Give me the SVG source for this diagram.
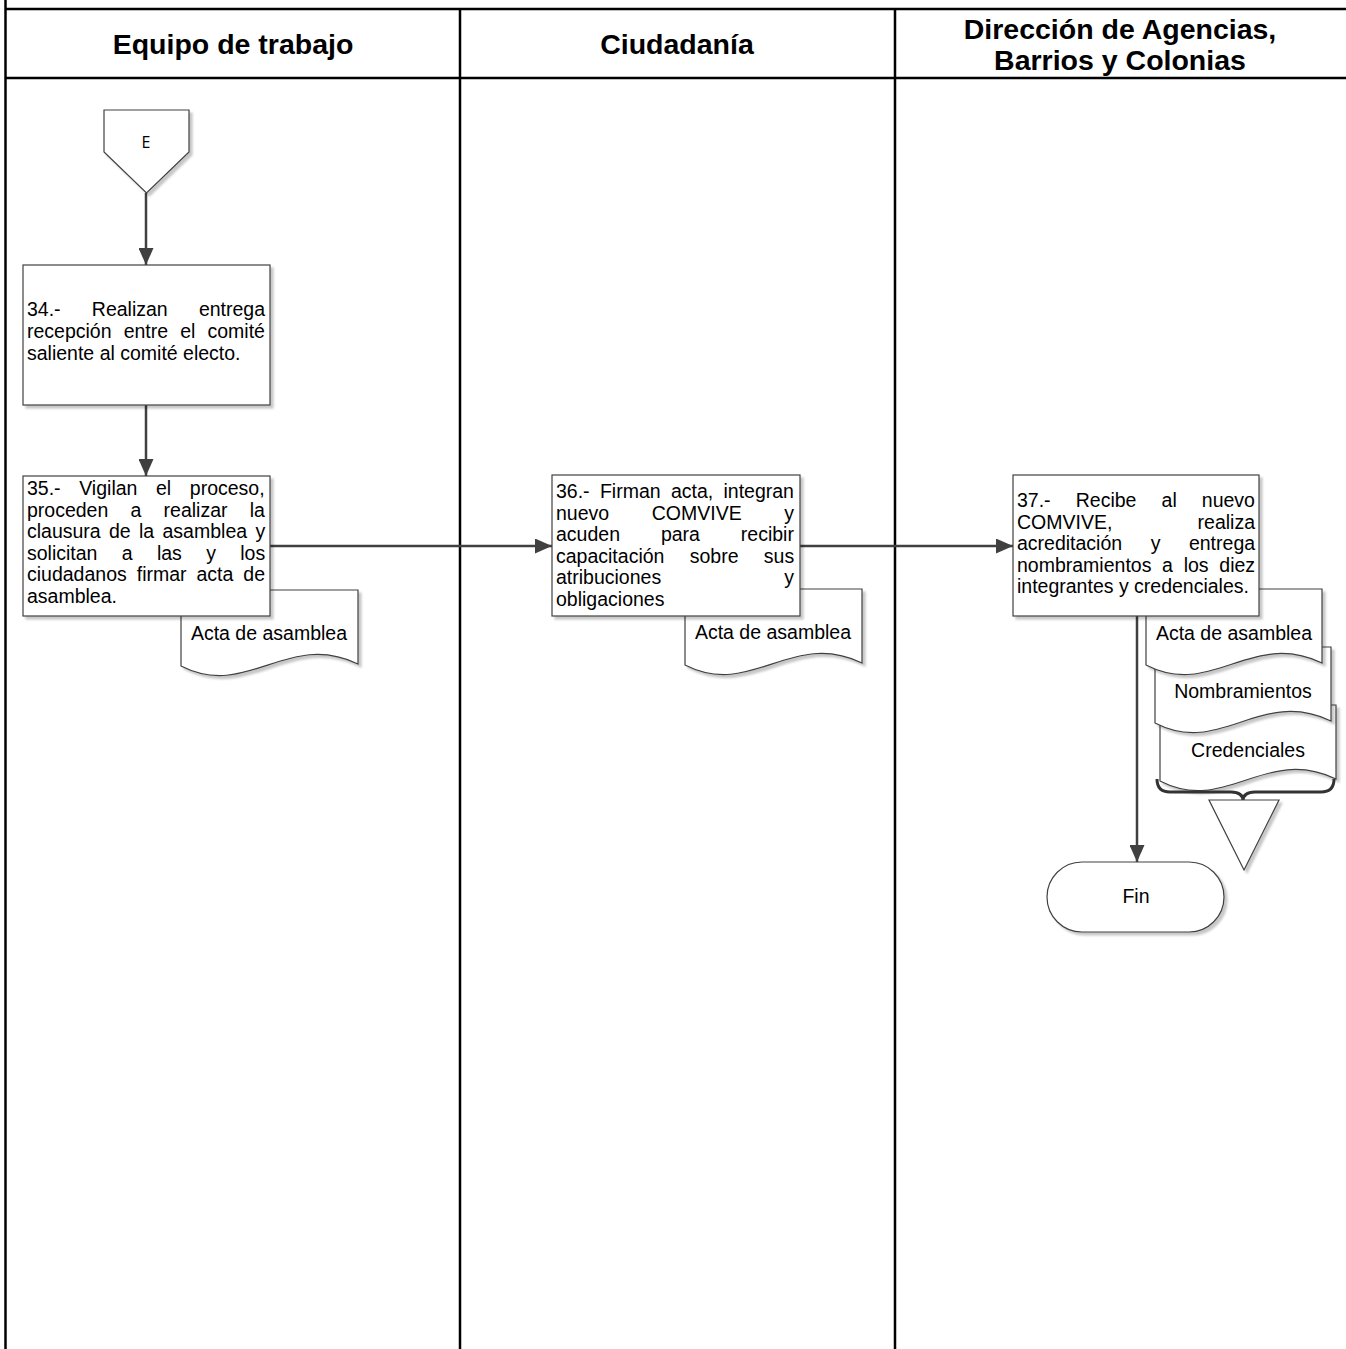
<svg xmlns="http://www.w3.org/2000/svg" width="1346" height="1349" viewBox="0 0 1346 1349">
  <style>
    .lane { stroke: #000; stroke-width: 2.5; fill: none; }
    .hdr { font-family: "Liberation Sans", Arial, sans-serif; font-weight: bold; font-size: 28.5px; fill: #000; text-anchor: middle; }
    .box { fill: #fff; stroke: #404040; stroke-width: 1.2; }
    .txt { font-family: "Liberation Sans", Arial, sans-serif; font-size: 19.5px; fill: #000; }
    .ctr { text-anchor: middle; }
    .con { stroke: #404040; stroke-width: 2.5; fill: none; }
  </style>
  <defs>
    <filter id="shadow" x="-10%" y="-10%" width="125%" height="130%">
      <feDropShadow dx="3" dy="3" stdDeviation="1.2" flood-color="#000" flood-opacity="0.22"/>
    </filter>
    <marker id="arrow" viewBox="0 0 17 15" refX="17" refY="7.5" markerWidth="17" markerHeight="15" markerUnits="userSpaceOnUse" orient="auto">
      <path d="M0,0 L17,7.5 L0,15 Z" fill="#404040"/>
    </marker>
  </defs>

  <rect width="1346" height="1349" fill="#fff"/>

  <!-- swimlane frame -->
  <g id="lanes">
    <line class="lane" x1="5.5" y1="0" x2="5.5" y2="1349"/>
    <line class="lane" x1="5" y1="9" x2="1346" y2="9"/>
    <line class="lane" x1="5" y1="78" x2="1346" y2="78"/>
    <line class="lane" x1="460" y1="9" x2="460" y2="1349"/>
    <line class="lane" x1="895" y1="9" x2="895" y2="1349"/>
    <text class="hdr" x="233" y="54">Equipo de trabajo</text>
    <text class="hdr" x="677" y="54">Ciudadanía</text>
    <text class="hdr" x="1120" y="39">Dirección de Agencias,</text>
    <text class="hdr" x="1120" y="70">Barrios y Colonias</text>
  </g>

  <!-- connectors -->
  <g id="connectors">
    <line class="con" x1="146" y1="193" x2="146" y2="265" marker-end="url(#arrow)"/>
    <line class="con" x1="146" y1="405" x2="146" y2="476" marker-end="url(#arrow)"/>
    <line class="con" x1="270" y1="546" x2="552" y2="546" marker-end="url(#arrow)"/>
    <line class="con" x1="800" y1="546" x2="1013" y2="546" marker-end="url(#arrow)"/>
    <line class="con" x1="1137" y1="616" x2="1137" y2="862" marker-end="url(#arrow)"/>
  </g>

  <!-- off-page connector E -->
  <g id="connector-E">
    <path class="box" filter="url(#shadow)" d="M104,110 H189 V152 L146.5,193 L104,152 Z"/>
    <text x="146" y="148" font-family="'Open Sans', 'Liberation Sans', sans-serif" font-size="16" fill="#000" text-anchor="middle">E</text>
  </g>

  <!-- step 34 -->
  <g id="step-34">
    <rect class="box" filter="url(#shadow)" x="23" y="265" width="247" height="140"/>
    <text class="txt">
      <tspan x="27" y="316" word-spacing="25.8">34.- Realizan entrega</tspan>
      <tspan x="27" y="338" word-spacing="6.7">recepción entre el comité</tspan>
      <tspan x="27" y="360">saliente al comité electo.</tspan>
    </text>
  </g>

  <!-- step 35 -->
  <g id="step-35">
    <path class="box" filter="url(#shadow)" d="M181,590 H358 V664 C287,630 248,700 181,666 Z"/>
    <text class="txt ctr" x="269" y="640">Acta de asamblea</text>
    <rect class="box" filter="url(#shadow)" x="23" y="476" width="247" height="140"/>
    <text class="txt">
      <tspan x="27" y="495" word-spacing="13.2">35.- Vigilan el proceso,</tspan>
      <tspan x="27" y="516.5" word-spacing="16.8">proceden a realizar la</tspan>
      <tspan x="27" y="538" word-spacing="2.9">clausura de la asamblea y</tspan>
      <tspan x="27" y="559.5" word-spacing="18.9">solicitan a las y los</tspan>
      <tspan x="27" y="581" word-spacing="4.55">ciudadanos firmar acta de</tspan>
      <tspan x="27" y="602.5">asamblea.</tspan>
    </text>
  </g>

  <!-- step 36 -->
  <g id="step-36">
    <path class="box" filter="url(#shadow)" d="M685,589 H862 V663 C791,629 752,699 685,665 Z"/>
    <text class="txt ctr" x="773" y="639">Acta de asamblea</text>
    <rect class="box" filter="url(#shadow)" x="552" y="475" width="248" height="141"/>
    <text class="txt">
      <tspan x="556" y="498" word-spacing="4.9">36.- Firman acta, integran</tspan>
      <tspan x="556" y="519.5" word-spacing="37.2">nuevo COMVIVE y</tspan>
      <tspan x="556" y="541" word-spacing="35.5">acuden para recibir</tspan>
      <tspan x="556" y="562.5" word-spacing="19.9">capacitación sobre sus</tspan>
      <tspan x="556" y="584" word-spacing="117.7">atribuciones y</tspan>
      <tspan x="556" y="605.5">obligaciones</tspan>
    </text>
  </g>

  <!-- step 37 with its output documents -->
  <g id="step-37">
    <path class="box" filter="url(#shadow)" d="M1160,705 H1336 V779 C1265,745 1226,815 1160,781 Z"/>
    <text class="txt ctr" x="1248" y="757">Credenciales</text>
    <path class="box" filter="url(#shadow)" d="M1155,647 H1331 V721 C1260,687 1221,757 1155,723 Z"/>
    <text class="txt ctr" x="1243" y="698">Nombramientos</text>
    <path class="box" filter="url(#shadow)" d="M1146,589 H1322 V663 C1251,629 1212,699 1146,665 Z"/>
    <text class="txt ctr" x="1234" y="640">Acta de asamblea</text>
    <rect class="box" filter="url(#shadow)" x="1013" y="475" width="246" height="141"/>
    <text class="txt">
      <tspan x="1017" y="507" word-spacing="19.7">37.- Recibe al nuevo</tspan>
      <tspan x="1017" y="528.5" word-spacing="79.8">COMVIVE, realiza</tspan>
      <tspan x="1017" y="550" word-spacing="23.1">acreditación y entrega</tspan>
      <tspan x="1017" y="571.5" word-spacing="5.3">nombramientos a los diez</tspan>
      <tspan x="1017" y="593">integrantes y credenciales.</tspan>
    </text>
  </g>

  <!-- bracket grouping the documents -->
  <g id="bracket">
    <path d="M1157,779 Q1157,792 1170,792 L1231,792 Q1243,792 1243,801 Q1243,792 1255,792 L1321,792 Q1334,792 1334,779" fill="none" stroke="#333" stroke-width="3"/>
  </g>

  <!-- archive triangle -->
  <g id="archive">
    <path class="box" filter="url(#shadow)" d="M1209,800 H1279 L1244,870 Z"/>
  </g>

  <!-- end terminator -->
  <g id="end">
    <rect class="box" filter="url(#shadow)" x="1047" y="862" width="177" height="70" rx="35" ry="35"/>
    <text class="txt ctr" x="1136" y="903">Fin</text>
  </g>
</svg>
